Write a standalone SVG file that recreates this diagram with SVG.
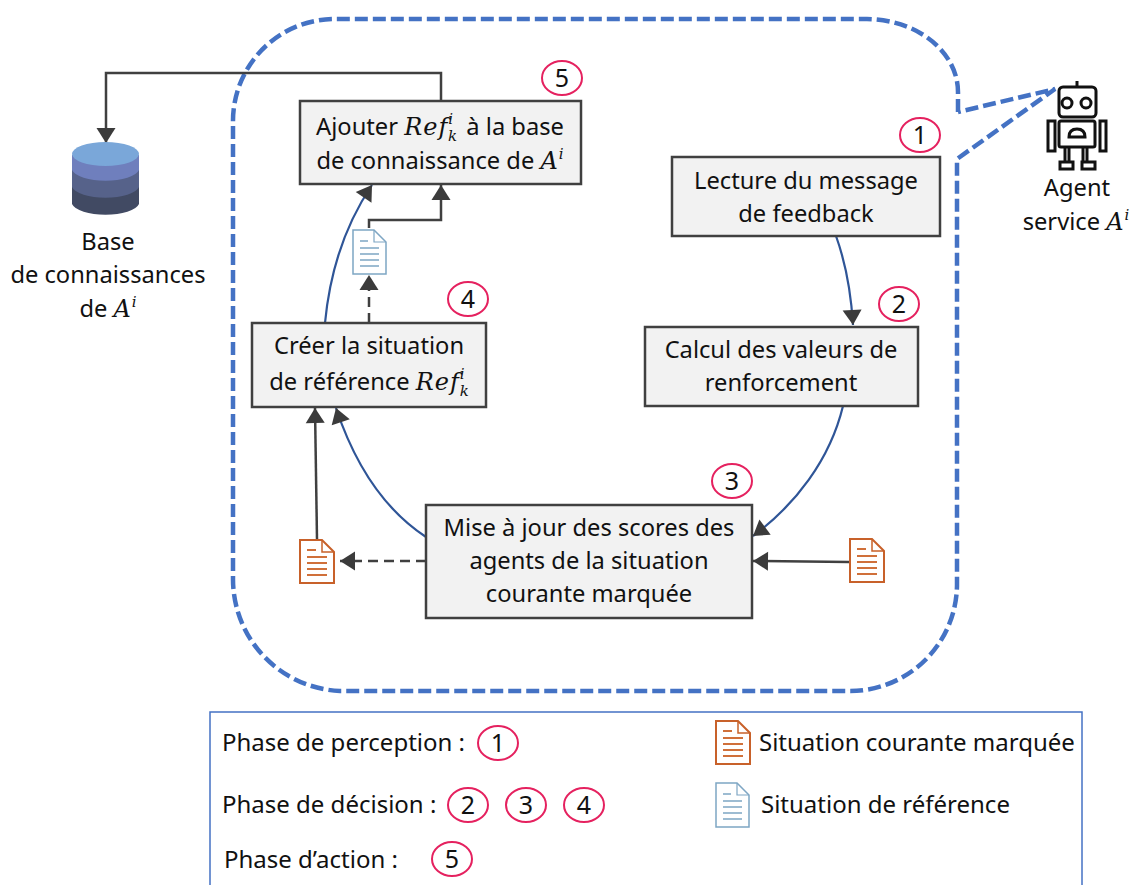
<svg xmlns="http://www.w3.org/2000/svg" width="1131" height="885" viewBox="0 0 1131 885">
<style>
text{font-family:"Noto Sans","Open Sans","Liberation Sans",sans-serif;font-size:23.7px;fill:#111;text-anchor:middle}
.l{text-anchor:start;font-size:24px}
.d{font-size:25px}
.m{font-family:"DejaVu Serif","Liberation Serif",serif;font-style:italic;font-size:24px;letter-spacing:1px}
.s{font-family:"DejaVu Serif","Liberation Serif",serif;font-style:italic;font-size:15px}
.box{fill:#f2f2f2;stroke:#404040;stroke-width:2.5}
.c{fill:#fff;stroke:#e5215f;stroke-width:2}
.blue{fill:none;stroke:#2f5597;stroke-width:2.2}
.dark{fill:none;stroke:#404040;stroke-width:2.5}
.dash{stroke-dasharray:10 6}
.rb{fill:none;stroke:#111;stroke-width:3}
</style>
<defs>
<marker id="a" markerUnits="userSpaceOnUse" markerWidth="20" markerHeight="22" refX="16" refY="10.500" orient="auto"><path d="M1 1L16 10.500L1 20Z" fill="#3b3b3b"/></marker>
<g id="docO"><path d="M1 1H23L35 13V44H1Z" fill="#fff" stroke="#c8612a" stroke-width="2"/><path d="M23 1V13H35" fill="none" stroke="#c8612a" stroke-width="1.5"/><path d="M8 11H17M8 18H28M8 24H28M8 30H28M8 36H28" stroke="#d0703a" stroke-width="2"/></g>
<g id="docB"><path d="M1 1H22L34 13V45H1Z" fill="#fff" stroke="#7ea6c4" stroke-width="1.5"/><path d="M22 1V13H34" fill="none" stroke="#7ea6c4" stroke-width="1.2"/><path d="M8 12H16M8 19H27M8 25H27M8 31H27M8 37H27" stroke="#7ea6c4" stroke-width="1.6"/></g>
</defs>
<rect width="1131" height="885" fill="#fff"/>

<path id="boundary" d="M958 112V92A92 73 0 0 0 867 19H335A102 102 0 0 0 233 122V578A112 112 0 0 0 340 691H850A107 107 0 0 0 957 585V159L1055 89L958 112" fill="none" stroke="#4472c4" stroke-width="4.500" stroke-dasharray="13 5"/>

<g id="connectors">
<path class="dark" d="M441 101V73H106V143" marker-end="url(#a)"/>
<path class="blue" d="M836 236Q850 275 853 325" marker-end="url(#a)"/>
<path class="blue" d="M843 406C830 460 795 505 753 536" marker-end="url(#a)"/>
<path class="blue" d="M426 537C385 510 355 465 336 408" marker-end="url(#a)"/>
<path class="blue" d="M325 323C330 270 345 225 372 185" marker-end="url(#a)"/>
<path class="dark" d="M317 539L315 408" marker-end="url(#a)"/>
<path class="dark dash" d="M426 561H340" marker-end="url(#a)"/>
<path class="dark" d="M849 562L753 561" marker-end="url(#a)"/>
<path class="dark dash" d="M369 323V275" marker-end="url(#a)"/>
<path class="dark" d="M369 228V220H441V185" marker-end="url(#a)"/>
</g>

<g id="database">
<path d="M72 155V204A34 13 0 0 0 139 204V155Z" fill="#414a63"/>
<path d="M72 155V187A34 13 0 0 0 139 187V155Z" fill="#56628a"/>
<path d="M72 155V170A34 13 0 0 0 139 170V155Z" fill="#6f7fbd"/>
<ellipse cx="105.500" cy="154" rx="33.500" ry="12" fill="#7aa7d9"/>
<text x="108" y="250">Base</text>
<text x="108" y="283">de connaissances</text>
<text x="108" y="317">de <tspan class="m">A</tspan><tspan class="s" dy="-10">i</tspan></text>
</g>

<g id="robot">
<path class="rb" d="M1077 81V87"/>
<rect class="rb" x="1059" y="87" width="37" height="30" rx="4"/>
<circle class="rb" cx="1067" cy="103" r="5"/><circle class="rb" cx="1086" cy="103" r="5"/>
<rect class="rb" x="1059" y="121" width="36" height="26" rx="2"/>
<rect class="rb" x="1048" y="121" width="7" height="30"/><rect class="rb" x="1100" y="121" width="6" height="30"/>
<path class="rb" d="M1065 147V162M1069 147V162M1083 147V162M1087 147V162"/>
<rect class="rb" x="1060" y="162" width="13" height="7"/><rect class="rb" x="1082" y="162" width="13" height="7"/>
<path class="rb" d="M1069 137Q1069 129 1077 129Q1085 129 1085 137Z"/>
<text x="1077" y="196">Agent</text>
<text x="1076" y="230">service <tspan class="m">A</tspan><tspan class="s" dy="-10">i</tspan></text>
</g>

<g id="n-ajouter"><rect class="box" x="300" y="101" width="281" height="83"/>
<text x="440" y="135">Ajouter <tspan class="m">Ref</tspan><tspan class="s" dy="-11">i</tspan><tspan class="s" dy="17" dx="-5">k</tspan><tspan dy="-6" dx="3"> à la base</tspan></text>
<text x="440" y="169">de connaissance de <tspan class="m">A</tspan><tspan class="s" dy="-10">i</tspan></text></g>
<g id="n-lecture"><rect class="box" x="672" y="157" width="268" height="79"/>
<text x="806" y="189">Lecture du message</text><text x="806" y="222">de feedback</text></g>
<g id="n-calcul"><rect class="box" x="645" y="327" width="273" height="79"/>
<text x="781" y="358">Calcul des valeurs de</text><text x="781" y="391">renforcement</text></g>
<g id="n-creer"><rect class="box" x="252" y="323" width="234" height="84"/>
<text x="369" y="354">Créer la situation</text>
<text x="369" y="390">de référence <tspan class="m">Ref</tspan><tspan class="s" dy="-11">i</tspan><tspan class="s" dy="17" dx="-5">k</tspan></text></g>
<g id="n-maj"><rect class="box" x="426" y="505" width="326" height="113"/>
<text x="589" y="536">Mise à jour des scores des</text><text x="589" y="569">agents de la situation</text><text x="589" y="602">courante marquée</text></g>

<g id="doc-ref"><use href="#docB" x="352" y="229"/></g>
<g id="doc-left"><use href="#docO" x="299" y="539"/></g>
<g id="doc-right"><use href="#docO" x="849" y="538"/></g>

<g id="badge-5"><ellipse class="c" cx="562" cy="78" rx="20" ry="17"/><text class="d" x="562" y="87">5</text></g>
<g id="badge-1"><ellipse class="c" cx="920" cy="135" rx="20" ry="17"/><text class="d" x="920" y="144">1</text></g>
<g id="badge-2"><ellipse class="c" cx="899" cy="304" rx="20" ry="17"/><text class="d" x="899" y="313">2</text></g>
<g id="badge-4"><ellipse class="c" cx="468" cy="299" rx="20" ry="17"/><text class="d" x="468" y="308">4</text></g>
<g id="badge-3"><ellipse class="c" cx="732" cy="481" rx="20" ry="17"/><text class="d" x="732" y="490">3</text></g>

<g id="legend">
<rect x="210" y="712" width="872" height="190" fill="#fff" stroke="#4472c4" stroke-width="1.500"/>
<text class="l" x="222" y="751">Phase de perception :</text>
<text class="l" x="222" y="813">Phase de décision :</text>
<text class="l" x="224" y="868">Phase d’action :</text>
<ellipse class="c" cx="498" cy="743" rx="20" ry="17"/><text class="d" x="498" y="752">1</text>
<ellipse class="c" cx="468" cy="805" rx="20" ry="17"/><text class="d" x="468" y="814">2</text>
<ellipse class="c" cx="526" cy="805" rx="20" ry="17"/><text class="d" x="526" y="814">3</text>
<ellipse class="c" cx="584" cy="805" rx="20" ry="17"/><text class="d" x="584" y="814">4</text>
<ellipse class="c" cx="452" cy="859" rx="20" ry="17"/><text class="d" x="452" y="868">5</text>
<use href="#docO" x="715" y="720"/><use href="#docB" x="715" y="782"/>
<text class="l" x="759" y="751">Situation courante marquée</text>
<text class="l" x="761" y="813">Situation de référence</text>
</g>
</svg>
